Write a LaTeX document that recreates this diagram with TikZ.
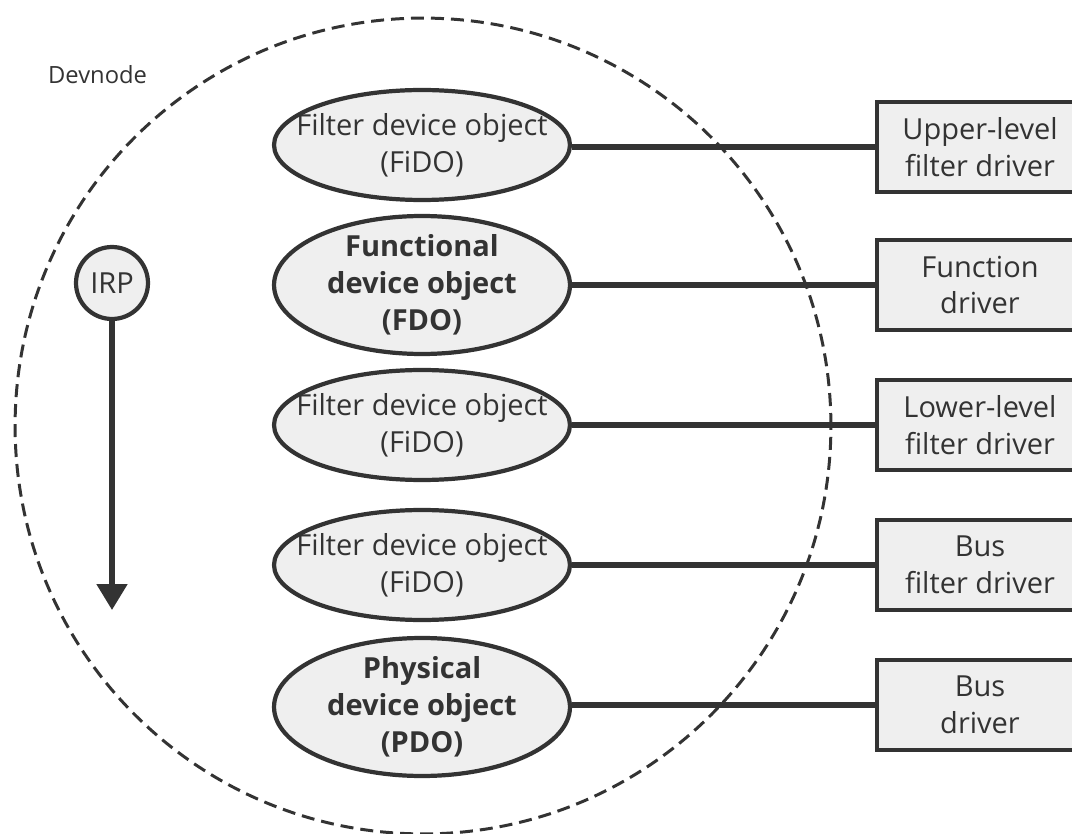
\documentclass[tikz,border=0pt]{standalone}
\usepackage{fontspec}
\setmainfont{Open Sans}
\usetikzlibrary{positioning,shapes,arrows.meta}
\definecolor{linegray}{HTML}{333333}
\definecolor{fillgray}{HTML}{EFEFEF}

\begin{document}
\begin{tikzpicture}[x=0.02cm,y=-0.02cm,
    txt/.style={text=linegray,font=\fontsize{16.5}{21}\selectfont},
    obj/.style={ellipse,draw=linegray,fill=fillgray,line width=2.4pt,
        inner xsep=-0.5cm,inner ysep=-0.1cm,
        minimum width=5.92cm,minimum height=2.2cm,align=center,txt},
    mainobj/.style={obj,minimum height=2.76cm,font=\fontsize{16.5}{21}\selectfont\bfseries},
    drv/.style={rectangle,draw=linegray,fill=fillgray,line width=2.4pt,
        minimum width=4.12cm,minimum height=1.8cm,align=center,txt},
    link/.style={draw=linegray,line width=3pt}]
    \useasboundingbox (0,0) rectangle (1072,834);
    \clip (0,0) rectangle (1072,834);

    % Devnode boundary
    \draw[linegray,line width=1.7pt,dash pattern=on 0.26cm off 0.14cm] (423,426) circle[radius=8.16cm];
    \node[txt,font=\fontsize{13.5}{16}\selectfont,anchor=west] (devnode) at (42,75) {Devnode};

    % Device objects (stack)
    \node[obj] (fido1) at (422,145) {Filter device object\\(FiDO)};
    \node[mainobj] (fdo) at (422,285) {Functional\\device object\\(FDO)};
    \node[obj] (fido2) at (422,425) {Filter device object\\(FiDO)};
    \node[obj] (fido3) at (422,565) {Filter device object\\(FiDO)};
    \node[mainobj] (pdo) at (422,707) {Physical\\device object\\(PDO)};

    % Drivers
    \node[drv] (upper) at (980,147) {Upper-level\\filter driver};
    \node[drv] (func) at (980,285) {Function\\driver};
    \node[drv] (lower) at (980,425) {Lower-level\\filter driver};
    \node[drv] (busf) at (980,565) {Bus\\filter driver};
    \node[drv] (bus) at (980,705) {Bus\\driver};

    % Object to driver links
    \draw[link] (fido1.east |- upper.west) -- (upper.west);
    \draw[link] (fdo.east) -- (func.west);
    \draw[link] (fido2.east) -- (lower.west);
    \draw[link] (fido3.east) -- (busf.west);
    \draw[link] (pdo.east |- bus.west) -- (bus.west);

    % IRP flow
    \node[circle,draw=linegray,fill=fillgray,line width=2.4pt,minimum size=1.44cm,inner sep=0pt,txt] (irp) at (112,283) {IRP};
    \coordinate (irpend) at (112,610);
    \draw[linegray,line width=3pt,-{Triangle[length=0.52cm,width=0.6cm]}] (irp) -- (irpend);
\end{tikzpicture}
\end{document}
